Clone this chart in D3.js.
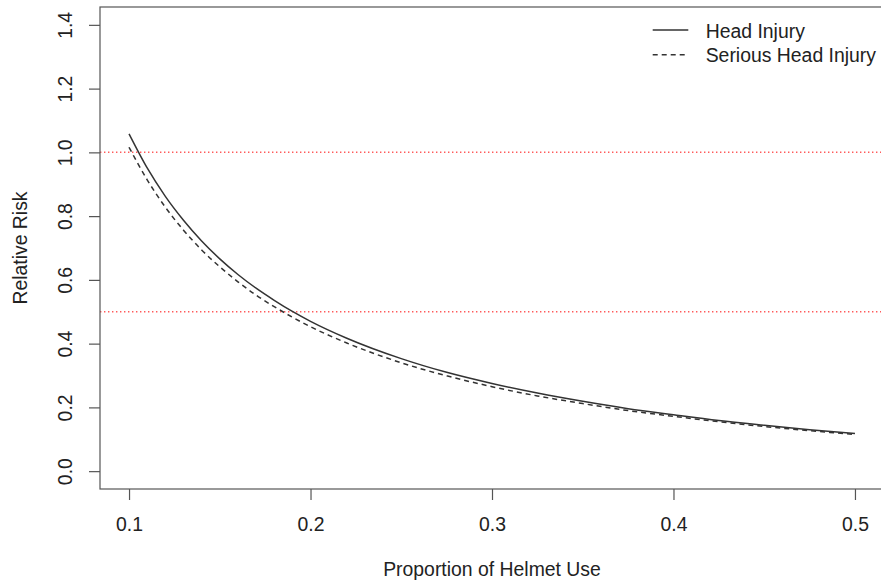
<!DOCTYPE html>
<html>
<head>
<meta charset="utf-8">
<script src="https://cdn.jsdelivr.net/npm/d3@7"></script>
<style>
    html, body { margin: 0; padding: 0; background: #ffffff; }
    svg { display: block; font-family: "Liberation Sans", Arial, sans-serif; }
</style>
</head>
<body>
<div class="chartContainer"></div>
<script>
// values
const helmetUse = [0.10, 0.11, 0.12, 0.13, 0.14, 0.15, 0.16, 0.17, 0.18, 0.19, 0.20,
    0.22, 0.25, 0.275, 0.30, 0.325, 0.35, 0.375, 0.40, 0.425, 0.45, 0.475, 0.50];
const headInjury = [1.058, 0.951, 0.862, 0.787, 0.722, 0.666, 0.617, 0.574, 0.536, 0.501, 0.470,
    0.417, 0.353, 0.310, 0.275, 0.245, 0.219, 0.196, 0.177, 0.159, 0.144, 0.130, 0.118];
const seriousHeadInjury = [1.016, 0.914, 0.828, 0.756, 0.694, 0.641, 0.594, 0.552, 0.516, 0.483, 0.453,
    0.402, 0.340, 0.299, 0.265, 0.236, 0.212, 0.190, 0.172, 0.155, 0.140, 0.127, 0.115];
const xTicks = [0.1, 0.2, 0.3, 0.4, 0.5];
const yTicks = [0.0, 0.2, 0.4, 0.6, 0.8, 1.0, 1.2, 1.4];
const refLines = [1.0, 0.5];
const legendLabels = ['Head Injury', 'Serious Head Injury'];

const width = 881, height = 587;
const box = {left: 100, right: 884, top: 7, bottom: 489};
const textColor = '#222222';
const fontSize = 19.4;

let svg = d3.select('.chartContainer')
    .append('svg')
    .attr('width', width)
    .attr('height', height);

// R style 4% padding around the data range
let x = d3.scaleLinear().domain([0.084, 0.516]).range([box.left, box.right]);
let y = d3.scaleLinear().domain([-0.056, 1.456]).range([box.bottom, box.top]);

// reference lines
svg.append('g')
    .selectAll('line')
    .data(refLines)
    .enter()
    .append('line')
    .attr('x1', box.left)
    .attr('x2', box.right)
    .attr('y1', d => y(d))
    .attr('y2', d => y(d))
    .attr('stroke', '#ff5a5a')
    .attr('stroke-width', 1.5)
    .attr('stroke-dasharray', '1.4,2.6');

// curves
let series = [
    {values: headInjury, dash: null},
    {values: seriousHeadInjury, dash: '5,4'}
];
let lineGen = d3.line()
    .x(d => x(d[0]))
    .y(d => y(d[1]))
    .curve(d3.curveMonotoneX);

svg.append('g')
    .selectAll('path')
    .data(series)
    .enter()
    .append('path')
    .attr('d', s => lineGen(helmetUse.map((p, i) => [p, s.values[i]])))
    .attr('fill', 'none')
    .attr('stroke', '#333333')
    .attr('stroke-width', 1.5)
    .attr('stroke-dasharray', s => s.dash);

// x axis
let xAxis = svg.append('g')
    .attr('transform', `translate(0,${box.bottom})`)
    .call(d3.axisBottom(x).tickValues(xTicks).tickSize(11).tickFormat(d3.format('.1f')));
xAxis.select('.domain').remove();
xAxis.selectAll('line').attr('stroke', '#555555').attr('stroke-width', 1.2);
xAxis.selectAll('text')
    .attr('y', 531 - box.bottom)
    .attr('dy', null)
    .attr('fill', textColor)
    .style('font-size', `${fontSize}px`);

// y axis, labels turned like R's las = 0
let yAxis = svg.append('g')
    .attr('transform', `translate(${box.left},0)`)
    .call(d3.axisLeft(y).tickValues(yTicks).tickSize(11).tickFormat(d3.format('.1f')));
yAxis.select('.domain').remove();
yAxis.selectAll('line').attr('stroke', '#555555').attr('stroke-width', 1.2);
yAxis.selectAll('text')
    .attr('x', null)
    .attr('dy', null)
    .attr('text-anchor', 'middle')
    .attr('transform', `translate(${71.5 - box.left},0) rotate(-90)`)
    .attr('fill', textColor)
    .style('font-size', `${fontSize}px`);

// plot frame
svg.append('rect')
    .attr('x', box.left)
    .attr('y', box.top)
    .attr('width', box.right - box.left)
    .attr('height', box.bottom - box.top)
    .attr('fill', 'none')
    .attr('stroke', '#555555')
    .attr('stroke-width', 1.2);

// axis titles
svg.append('text')
    .attr('x', (box.left + box.right) / 2)
    .attr('y', 576)
    .attr('text-anchor', 'middle')
    .attr('fill', textColor)
    .style('font-size', `${fontSize}px`)
    .text('Proportion of Helmet Use');

svg.append('text')
    .attr('transform', `translate(26.5,${(box.top + box.bottom) / 2}) rotate(-90)`)
    .attr('text-anchor', 'middle')
    .attr('fill', textColor)
    .style('font-size', `${fontSize}px`)
    .text('Relative Risk');

// legend
let legend = svg.append('g')
    .selectAll('g')
    .data(legendLabels)
    .enter()
    .append('g')
    .attr('transform', (d, i) => `translate(0,${30 + i * 24.7})`);
legend.append('line')
    .attr('x1', 652.7)
    .attr('x2', 688.3)
    .attr('stroke', '#333333')
    .attr('stroke-width', 1.5)
    .attr('stroke-dasharray', (d, i) => series[i].dash);
legend.append('text')
    .attr('x', 705.7)
    .attr('y', 7.7)
    .attr('fill', textColor)
    .style('font-size', `${fontSize}px`)
    .text(d => d);
</script>
</body>
</html>
